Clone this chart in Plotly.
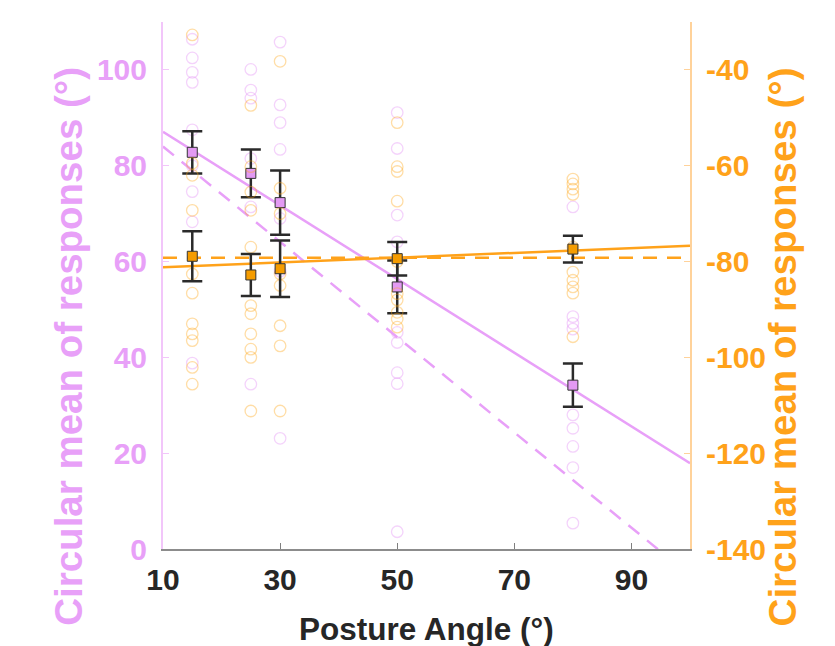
import plotly.graph_objects as go

# ---------------- data ----------------
posture_angles = [15, 25, 30, 50, 80]

# individual responses (left axis, purple)
purple_resp_15 = [106.4, 102.5, 99.5, 97.4, 87.5, 80.0, 74.6, 68.3, 38.8]
purple_resp_25 = [100.1, 95.8, 94.1, 81.5, 71.4, 34.4]
purple_resp_30 = [105.8, 92.7, 89.0, 83.4, 69.0, 58.0, 23.1]
purple_resp_50 = [91.1, 83.6, 69.7, 64.1, 45.2, 43.1, 36.8, 34.5, 3.6]
purple_resp_80 = [71.4, 48.5, 47.1, 45.9, 28.0, 25.2, 21.4, 17.0, 5.4]

# individual responses (right axis, orange)
orange_resp_15 = [-32.7, -59.5, -62.0, -69.3, -82.6, -86.6, -93.0, -95.1, -96.5, -102.1, -105.6]
orange_resp_25 = [-47.4, -60.2, -65.5, -69.3, -77.0, -89.2, -90.9, -95.1, -98.3, -100.0, -111.2]
orange_resp_30 = [-38.2, -64.7, -70.0, -82.6, -85.0, -93.4, -97.6, -111.2]
orange_resp_50 = [-51.0, -60.2, -61.2, -67.4, -80.0, -86.7, -88.0, -90.6, -92.0, -93.7]
orange_resp_80 = [-62.8, -63.8, -64.9, -66.0, -77.0, -82.2, -83.9, -85.3, -86.6, -95.7]

# circular means and error half-widths
purple_means = [82.8, 78.4, 72.3, 54.7, 34.2]
purple_err = [4.4, 5.0, 6.7, 5.5, 4.5]
orange_means = [-78.9, -82.8, -81.5, -79.4, -77.4]
orange_err = [5.2, 4.4, 5.9, 3.5, 2.8]

# fitted / predicted lines (values at the ends of the x range)
fit_x = [10, 100]
purple_fit = [87.1, 17.9]
purple_pred = [84.0, -5.5]
orange_fit = [-81.2, -76.7]
orange_pred = [-79.2, -79.2]

x_ticks = [10, 30, 50, 70, 90]
left_ticks = [0, 20, 40, 60, 80, 100]
right_ticks = [-140, -120, -100, -80, -60, -40]

# ---------------- style ----------------
PURPLE = "#E8A0F8"
PURPLE_FILL = "#E39AF3"
PURPLE_FAINT = "rgba(225,140,245,0.38)"
ORANGE = "#FFA21A"
ORANGE_FILL = "#F59C00"
ORANGE_FAINT = "rgba(255,165,20,0.38)"
FONT = "Liberation Sans, Arial, Helvetica, sans-serif"

fig = go.Figure()

purple_groups = [purple_resp_15, purple_resp_25, purple_resp_30, purple_resp_50, purple_resp_80]
orange_groups = [orange_resp_15, orange_resp_25, orange_resp_30, orange_resp_50, orange_resp_80]

px, py = [], []
for a, g in zip(posture_angles, purple_groups):
    px += [a] * len(g)
    py += g
ox, oy = [], []
for a, g in zip(posture_angles, orange_groups):
    ox += [a] * len(g)
    oy += g

fig.add_trace(go.Scatter(
    x=px, y=py, mode="markers", yaxis="y",
    marker=dict(symbol="circle-open", size=11.5, color=PURPLE_FAINT, line=dict(width=1.3)),
    showlegend=False, hoverinfo="skip"))

fig.add_trace(go.Scatter(
    x=fit_x, y=purple_fit, mode="lines", yaxis="y",
    line=dict(color=PURPLE, width=2.5), showlegend=False))
fig.add_trace(go.Scatter(
    x=fit_x, y=purple_pred, mode="lines", yaxis="y",
    line=dict(color=PURPLE, width=2.5, dash="14px,10px"), showlegend=False))

fig.add_trace(go.Scatter(
    x=posture_angles, y=purple_means, mode="markers", yaxis="y",
    marker=dict(symbol="square", size=10, color=PURPLE_FILL, line=dict(color="#333333", width=1)),
    error_y=dict(type="data", array=purple_err, color="#2a2a2a", thickness=2.5, width=10),
    showlegend=False))

fig.add_trace(go.Scatter(
    x=ox, y=oy, mode="markers", yaxis="y2",
    marker=dict(symbol="circle-open", size=11.5, color=ORANGE_FAINT, line=dict(width=1.3)),
    showlegend=False, hoverinfo="skip"))

fig.add_trace(go.Scatter(
    x=fit_x, y=orange_fit, mode="lines", yaxis="y2",
    line=dict(color=ORANGE, width=2.5), showlegend=False))
fig.add_trace(go.Scatter(
    x=fit_x, y=orange_pred, mode="lines", yaxis="y2",
    line=dict(color=ORANGE, width=2.5, dash="14px,10px"), showlegend=False))

fig.add_trace(go.Scatter(
    x=posture_angles, y=orange_means, mode="markers", yaxis="y2",
    marker=dict(symbol="square", size=10, color=ORANGE_FILL, line=dict(color="#333333", width=1)),
    error_y=dict(type="data", array=orange_err, color="#2a2a2a", thickness=2.5, width=10),
    showlegend=False))

tick_font = dict(family=FONT, size=30, weight="bold")

fig.update_layout(
    width=835, height=646,
    margin=dict(l=163, r=145, t=22, b=97),
    paper_bgcolor="white", plot_bgcolor="white",
    font=dict(family=FONT),
    xaxis=dict(
        range=[10, 100], tickvals=x_ticks, ticktext=[str(v) for v in x_ticks],
        ticks="inside", ticklen=6, tickwidth=1.2, tickcolor="#7f7f7f",
        showline=True, linecolor="#8c8c8c", linewidth=2,
        showgrid=False, zeroline=False,
        tickfont=dict(tick_font, color="#262626"), ticklabelstandoff=3),
    yaxis=dict(
        range=[0, 110], tickvals=left_ticks, ticktext=[str(v) for v in left_ticks],
        ticks="inside", ticklen=6, tickwidth=1.2, tickcolor="#F2C6FA",
        showline=True, linecolor="#F2C6FA", linewidth=2,
        showgrid=False, zeroline=False,
        tickfont=dict(tick_font, color=PURPLE), ticklabelstandoff=8),
    yaxis2=dict(
        range=[-140, -30], tickvals=right_ticks, ticktext=[str(v) for v in right_ticks],
        overlaying="y", side="right",
        ticks="inside", ticklen=6, tickwidth=1.2, tickcolor="#FFD29A",
        showline=True, linecolor="#FFD29A", linewidth=2,
        showgrid=False, zeroline=False,
        tickfont=dict(tick_font, color=ORANGE), ticklabelstandoff=8),
    annotations=[
        dict(text="Posture Angle (°)", xref="paper", yref="paper",
             x=0.500, y=-0.152, xanchor="center", yanchor="middle", showarrow=False,
             font=dict(family=FONT, size=31.5, weight="bold", color="#262626")),
        dict(text="Circular mean of responses (°)", xref="paper", yref="paper",
             x=-0.180, y=0.384, xanchor="center", yanchor="middle", showarrow=False,
             textangle=-90,
             font=dict(family=FONT, size=38.5, weight="bold", color=PURPLE)),
        dict(text="Circular mean of responses (°)", xref="paper", yref="paper",
             x=1.176, y=0.384, xanchor="center", yanchor="middle", showarrow=False,
             textangle=-90,
             font=dict(family=FONT, size=38.5, weight="bold", color=ORANGE)),
    ],
)

fig.write_html("out.html",
               config={"displayModeBar": False},
               post_script="document.body.style.margin='0';document.body.style.padding='0';")
